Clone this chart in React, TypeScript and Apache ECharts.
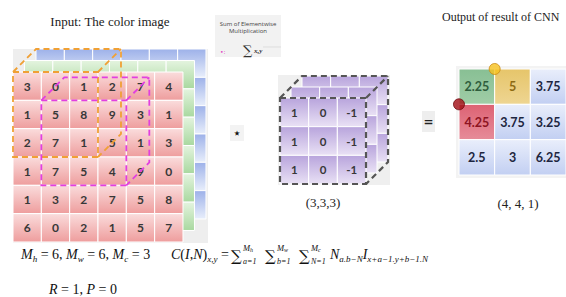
import React, { useEffect, useRef } from "react";
import * as echarts from "echarts";

// ---------------- data ----------------
const inputValues: number[][] = [
  [3, 0, 1, 2, 7, 4],
  [1, 5, 8, 9, 3, 1],
  [2, 7, 1, 5, 1, 3],
  [1, 7, 5, 4, 9, 0],
  [1, 3, 2, 7, 5, 8],
  [6, 0, 2, 1, 5, 7],
];
const inputChannels = ["red", "green", "blue"]; // front -> back
const kernelValues: number[][] = [
  [1, 0, -1],
  [1, 0, -1],
  [1, 0, -1],
];
const kernelLayers = ["front", "middle", "back"];
const outputValues: number[][] = [
  [2.25, 5, 3.75],
  [4.25, 3.75, 3.25],
  [2.5, 3, 6.25],
];
const outputTones: string[][] = [
  ["green", "yellow", "blue"],
  ["red", "blue", "blue"],
  ["blue", "blue", "blue"],
];
const receptiveFields = [
  { c0: 0, r0: 0, c1: 3, r1: 3, color: "#f0a035" },
  { c0: 1, r0: 1, c1: 4, r1: 4, color: "#e23fe0" },
];
const kernelWindow = [{ c0: 0, r0: 0, c1: 3, r1: 3, color: "#555555" }];
const outputMarkers = [
  { x: 1, y: 0, fill: "#f7c21e", stroke: "#c98a12" },
  { x: 0, y: 1, fill: "#a30d14", stroke: "#6e0a0e" },
];
const titleInput = "Input: The color image";
const titleOutput = "Output of result of CNN";
const kernelShape = "(3,3,3)";
const outputShape = "(4, 4, 1)";
const legendLines = ["Sum of Elementwise", "Multiplication"];

// ---------------- styles ----------------
const layerColors: Record<string, [string, string]> = {
  red: ["#fadcdc", "#ee9d9d"],
  green: ["#e4f4df", "#a8d89f"],
  blue: ["#9db1e9", "#e8eefb"],
  purple: ["#b8a4dc", "#e9e1f5"],
};
const outColors: Record<string, [string, string, string]> = {
  blue: ["#e9eefb", "#c2cff2", "#1d2640"],
  green: ["#88bf94", "#a0cda7", "#2f5d3d"],
  yellow: ["#e6c56a", "#eed592", "#8d6a12"],
  red: ["#dd6273", "#e68c99", "#8e1422"],
};

const IN_CELL = 28.33, IN_X = 13, IN_Y = 72, IN_SHIFT = 11.5;
const K_CELL = 28.67, K_X = 280, K_Y = 98, K_SHIFT = 11;
const O_X = 459, O_Y = 69, O_W = 107, O_H = 106;

const grad = (top: string, bottom: string) => ({
  type: "linear", x: 0, y: 0, x2: 0, y2: 1,
  colorStops: [{ offset: 0, color: top }, { offset: 1, color: bottom }],
});

const cellsOf = (rows: number[][]) => {
  const out: number[][] = [];
  rows.forEach((row, r) => row.forEach((v, c) => out.push([c, r, v])));
  return out;
};

const MATH = "'Liberation Serif', 'DejaVu Serif', serif";
const NUMF = "Lato, 'Open Sans', sans-serif";

function cellSeries(gi: number, data: number[][], fill: (i: number) => any, label: ((i: number) => { text: string; color: string; size: number }) | null, z: number) {
  return {
    type: "custom", xAxisIndex: gi, yAxisIndex: gi, z, clip: false, silent: true,
    data,
    renderItem: (params: any, api: any) => {
      const c = api.value(0), r = api.value(1);
      const p0 = api.coord([c, r]);
      const p1 = api.coord([c + 1, r + 1]);
      const w = p1[0] - p0[0], h = p1[1] - p0[1];
      const children: any[] = [{
        type: "rect", shape: { x: p0[0], y: p0[1], width: w, height: h },
        style: { fill: fill(params.dataIndex), stroke: "#ffffff", lineWidth: 1 },
      }];
      if (label) {
        const l = label(params.dataIndex);
        children.push({
          type: "text",
          style: { text: l.text, x: p0[0] + w / 2, y: p0[1] + h / 2, align: "center", verticalAlign: "middle", fontSize: l.size, fontWeight: "bold", fontFamily: NUMF, fill: l.color },
        });
      }
      return { type: "group", children };
    },
  };
}

function cubeSeries(gi: number, boxes: any[], depth: number, dash: number[], width: number) {
  return {
    type: "custom", xAxisIndex: gi, yAxisIndex: gi, z: 8, clip: false, silent: true,
    data: boxes.map((b) => [b.c0, b.r0, b.c1, b.r1]),
    renderItem: (params: any, api: any) => {
      const b = boxes[params.dataIndex];
      const A = api.coord([b.c0, b.r0]), B = api.coord([b.c1, b.r0]);
      const C = api.coord([b.c1, b.r1]), D = api.coord([b.c0, b.r1]);
      const A2 = api.coord([b.c0 + depth, b.r0 - depth]);
      const B2 = api.coord([b.c1 + depth, b.r0 - depth]);
      const C2 = api.coord([b.c1 + depth, b.r1 - depth]);
      const style = { stroke: b.color, lineWidth: width, lineDash: dash, fill: null };
      return {
        type: "group",
        children: [
          { type: "polygon", shape: { points: [A, B, C, D] }, style },
          { type: "polyline", shape: { points: [A, A2, B2, C2, C] }, style },
          { type: "line", shape: { x1: B[0], y1: B[1], x2: B2[0], y2: B2[1] }, style },
        ],
      };
    },
  };
}

function buildOption() {
  const grids: any[] = [];
  const xAxes: any[] = [];
  const yAxes: any[] = [];
  const addGrid = (left: number, top: number, width: number, height: number, n: number) => {
    const gi = grids.length;
    grids.push({ left, top, width, height, containLabel: false, show: false });
    xAxes.push({ type: "value", gridIndex: gi, min: 0, max: n, show: false });
    yAxes.push({ type: "value", gridIndex: gi, min: 0, max: n, inverse: true, show: false });
    return gi;
  };
  const series: any[] = [];

  // input layers (back to front)
  const inN = inputValues.length;
  const inGrids: Record<string, number> = {};
  [...inputChannels].reverse().forEach((ch) => {
    const k = inputChannels.indexOf(ch);
    inGrids[ch] = addGrid(IN_X + k * IN_SHIFT, IN_Y - k * IN_SHIFT, inN * IN_CELL, inN * IN_CELL, inN);
  });
  const inCells = cellsOf(inputValues);
  [...inputChannels].reverse().forEach((ch, idx) => {
    const col = layerColors[ch];
    series.push(cellSeries(inGrids[ch], inCells, () => grad(col[0], col[1]),
      ch === "red" ? (i) => ({ text: String(inCells[i][2]), color: "#383838", size: 12 }) : null, 2 + idx));
  });
  series.push(cubeSeries(inGrids["red"], receptiveFields, (2 * IN_SHIFT) / IN_CELL, [6, 4], 1.8));

  // kernel layers
  const kN = kernelValues.length;
  const kGrids: Record<string, number> = {};
  [...kernelLayers].reverse().forEach((ly) => {
    const k = kernelLayers.indexOf(ly);
    kGrids[ly] = addGrid(K_X + k * K_SHIFT, K_Y - k * K_SHIFT, kN * K_CELL, kN * K_CELL, kN);
  });
  const kCells = cellsOf(kernelValues);
  [...kernelLayers].reverse().forEach((ly, idx) => {
    const col = layerColors.purple;
    series.push(cellSeries(kGrids[ly], kCells, () => grad(col[0], col[1]),
      ly === "front" ? (i) => ({ text: String(kCells[i][2]), color: "#383838", size: 11.5 }) : null, 2 + idx));
  });
  series.push(cubeSeries(kGrids["front"], kernelWindow, (2 * K_SHIFT) / K_CELL, [6, 4], 2.2));

  // output
  const oN = outputValues.length;
  const oG = addGrid(O_X, O_Y, O_W, O_H, oN);
  const oCells = cellsOf(outputValues);
  series.push(cellSeries(oG, oCells, (i) => {
    const t = outColors[outputTones[oCells[i][1]][oCells[i][0]]];
    return grad(t[0], t[1]);
  }, (i) => ({ text: String(oCells[i][2]), color: outColors[outputTones[oCells[i][1]][oCells[i][0]]][2], size: 12.5 }), 3));
  series.push({
    type: "scatter", xAxisIndex: oG, yAxisIndex: oG, z: 9, clip: false, silent: true,
    symbol: "circle", symbolSize: 11,
    data: outputMarkers.map((m) => ({ value: [m.x, m.y], itemStyle: { color: m.fill, borderColor: m.stroke, borderWidth: 1 } })),
  });

  const sub = (t: string) => `{s|${t}}`;
  const graphic: any[] = [
    // backdrops
    { type: "rect", z: 0, shape: { x: 13, y: 49, width: 195, height: 194 }, style: { fill: "#eeeeee" } },
    { type: "rect", z: 0, shape: { x: 278, y: 75, width: 112, height: 110 }, style: { fill: "#efefef" } },
    { type: "rect", z: 0, shape: { x: 456, y: 66, width: 112, height: 112 }, style: { fill: "#f3f3f3" } },
    // titles
    { type: "text", z: 10, style: { text: titleInput, x: 110, y: 21, align: "center", verticalAlign: "middle", fontSize: 13, fontFamily: MATH, fill: "#222" } },
    { type: "text", z: 10, style: { text: titleOutput, x: 442, y: 17, align: "left", verticalAlign: "middle", fontSize: 12, fontFamily: MATH, fill: "#222" } },
    { type: "text", z: 10, style: { text: kernelShape, x: 323, y: 202, align: "center", verticalAlign: "middle", fontSize: 13, fontFamily: MATH, fill: "#222" } },
    { type: "text", z: 10, style: { text: outputShape, x: 518, y: 203, align: "center", verticalAlign: "middle", fontSize: 13, fontFamily: MATH, fill: "#222" } },
    // legend box
    { type: "rect", z: 0, shape: { x: 215, y: 15, width: 66, height: 42 }, style: { fill: "#f2f2f2" } },
    { type: "line", z: 1, shape: { x1: 263, y1: 47, x2: 281, y2: 47 }, style: { stroke: "#dddddd", lineWidth: 1 } },
    { type: "text", z: 10, style: { text: legendLines[0], x: 248, y: 24, align: "center", verticalAlign: "middle", fontSize: 6, fontFamily: "'Open Sans', sans-serif", fill: "#444" } },
    { type: "text", z: 10, style: { text: legendLines[1], x: 248, y: 30.5, align: "center", verticalAlign: "middle", fontSize: 6, fontFamily: "'Open Sans', sans-serif", fill: "#444" } },
    { type: "text", z: 10, style: { text: "∑", x: 243, y: 50, align: "left", verticalAlign: "middle", fontSize: 13, fontFamily: "'DejaVu Serif', serif", fill: "#333" } },
    { type: "text", z: 10, style: { text: "x,y", x: 254, y: 51, align: "left", verticalAlign: "middle", fontSize: 7, fontStyle: "italic", fontWeight: "bold", fontFamily: MATH, fill: "#333" } },
    { type: "text", z: 10, style: { text: "•:", x: 220, y: 51, align: "left", verticalAlign: "middle", fontSize: 6, fontFamily: "'DejaVu Sans', sans-serif", fill: "#e040c0" } },
    // operators
    { type: "rect", z: 0, shape: { x: 230, y: 125, width: 14, height: 16 }, style: { fill: "#f3f3f3" } },
    { type: "text", z: 10, style: { text: "⋆", x: 237, y: 133, align: "center", verticalAlign: "middle", fontSize: 12, fontWeight: "bold", fontFamily: "'DejaVu Sans', sans-serif", fill: "#111" } },
    { type: "rect", z: 0, shape: { x: 422, y: 111, width: 13, height: 21 }, style: { fill: "#eeeeee" } },
    { type: "text", z: 10, style: { text: "=", x: 428.5, y: 121.5, align: "center", verticalAlign: "middle", fontSize: 12, fontWeight: "bold", fontFamily: "'DejaVu Sans', sans-serif", fill: "#222" } },
  ];

  const rich = {
    v: { fontSize: 14, fontStyle: "italic", fontFamily: MATH, color: "#111", lineHeight: 18 },
    t: { fontSize: 14, fontFamily: MATH, color: "#111", lineHeight: 18 },
    s: { fontSize: 9, fontStyle: "italic", fontFamily: MATH, color: "#111", lineHeight: 10, verticalAlign: "bottom" },
  };
  const mathText = (text: string, x: number, y: number) => ({
    type: "text", z: 10,
    style: { text, x, y, align: "left", verticalAlign: "middle", rich, fontSize: 14, fontFamily: MATH, fill: "#111" },
  });
  graphic.push(mathText(`{v|M}${sub("h")}{t| = 6, }{v|M}${sub("w")}{t| = 6, }{v|M}${sub("c")}{t| = 3}`, 21, 254));
  graphic.push(mathText(`{v|R}{t| = 1, }{v|P}{t| = 0}`, 49, 289));
  graphic.push(mathText(`{v|C}{t|(}{v|I}{t|,}{v|N}{t|)}${sub("x,y")}{t| =}`, 171, 254));
  const sums = [
    { x: 231, sup: "M", supSub: "h", low: "a=1" },
    { x: 265, sup: "M", supSub: "w", low: "b=1" },
    { x: 299, sup: "M", supSub: "c", low: "N=1" },
  ];
  sums.forEach((s) => {
    graphic.push({ type: "text", z: 10, style: { text: "∑", x: s.x, y: 256, align: "left", verticalAlign: "middle", fontSize: 15, fontFamily: "'DejaVu Serif', serif", fill: "#111" } });
    graphic.push({ type: "text", z: 10, style: { text: `{a|${s.sup}}{b|${s.supSub}}`, x: s.x + 12, y: 248, align: "left", verticalAlign: "middle", fontFamily: MATH, fill: "#111",
      rich: { a: { fontSize: 8.5, fontStyle: "italic", fontFamily: MATH, color: "#111", lineHeight: 10 }, b: { fontSize: 6, fontStyle: "italic", fontFamily: MATH, color: "#111", lineHeight: 6, verticalAlign: "bottom" } } } });
    graphic.push({ type: "text", z: 10, style: { text: s.low, x: s.x + 12, y: 261, align: "left", verticalAlign: "middle", fontSize: 8, fontStyle: "italic", fontFamily: MATH, fill: "#111" } });
  });
  graphic.push(mathText(`{v|N}${sub("a.b−N")}{v|I}${sub("x+a−1.y+b−1.N")}`, 330, 254));

  return {
    animation: false,
    backgroundColor: "#ffffff",
    grid: grids,
    xAxis: xAxes,
    yAxis: yAxes,
    series,
    graphic,
  };
}

export default function App() {
  const ref = useRef<HTMLDivElement>(null);
  useEffect(() => {
    if (!ref.current) return;
    const chart = echarts.init(ref.current, undefined, { renderer: "svg" });
    chart.setOption(buildOption() as any);
    return () => chart.dispose();
  }, []);
  return <div ref={ref} style={{ position: "fixed", left: 0, top: 0, width: 566, height: 297 }} />;
}
